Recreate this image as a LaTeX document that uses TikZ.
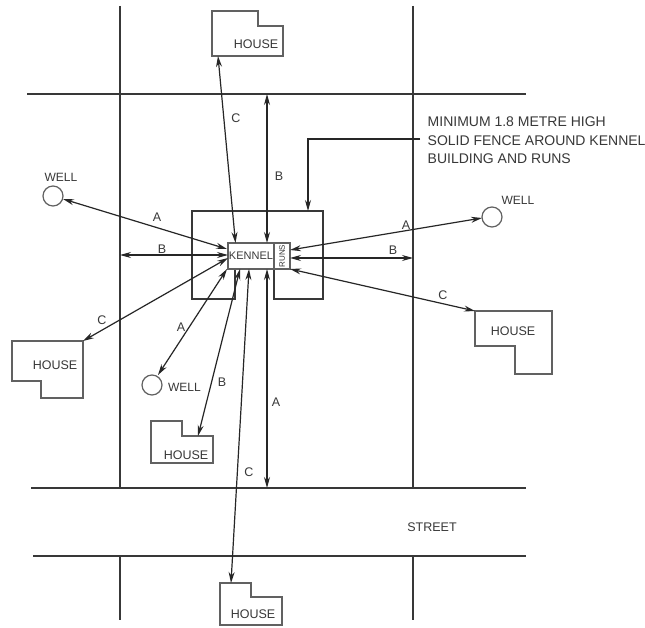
\documentclass[tikz,border=0pt]{standalone}
\usepackage{fontspec}
\setmainfont{Liberation Sans}
\usetikzlibrary{arrows.meta}
\definecolor{ink}{gray}{0.22}
\definecolor{soft}{gray}{0.38}
\tikzset{
  x=1pt,y=-1pt,
  road/.style={draw=ink,line width=1.2pt},
  fence/.style={draw=ink,line width=1.1pt},
  outline/.style={draw=soft,line width=1.2pt},
  link/.style={draw=black!85,line width=1.2pt,{Stealth[length=11pt,width=6pt]}-{Stealth[length=11pt,width=6pt]}},
  pointer/.style={draw=black!85,line width=1.1pt,-{Stealth[length=11pt,width=6pt]}},
  wellc/.style={circle,draw=soft,line width=1.2pt,minimum size=20pt,inner sep=0pt,fill=white},
  lab/.style={font=\fontsize{12.5}{12.5}\selectfont,text=ink,inner sep=0pt},
  small/.style={font=\fontsize{12}{12}\selectfont,text=ink,inner sep=0pt},
  note/.style={font=\fontsize{14}{14}\selectfont,text=ink,inner sep=0pt,anchor=west},
}
\begin{document}
\begin{tikzpicture}
\useasboundingbox (0,0) rectangle (645,628);
\fill[white] (0,0) rectangle (645,628);
% roads
\coordinate (v1a) at (120,6);  \coordinate (v1b) at (120,488);
\coordinate (v1c) at (120,556);\coordinate (v1d) at (120,620);
\coordinate (v2a) at (413,6);  \coordinate (v2b) at (413,488);
\coordinate (v2c) at (413,556);\coordinate (v2d) at (413,620);
\coordinate (h1a) at (27,94);  \coordinate (h1b) at (526,94);
\coordinate (h2a) at (31,488); \coordinate (h2b) at (526,488);
\coordinate (h3a) at (33,556); \coordinate (h3b) at (526,556);
\draw[road] (v1a)--(v1b) (v1c)--(v1d) (v2a)--(v2b) (v2c)--(v2d)
  (h1a)--(h1b) (h2a)--(h2b) (h3a)--(h3b);
% fence
\draw[fence] (235,269)--(235,299)--(192,299)--(192,211)--(323,211)--(323,299)--(274,299)--(274,269);
% houses
\draw[outline] (212,11)--(258,11)--(258,26)--(283,26)--(283,56)--(212,56)--cycle;
\draw[outline] (12,341)--(83,341)--(83,398)--(41,398)--(41,381)--(12,381)--cycle;
\draw[outline] (151,421)--(182,421)--(182,436)--(213,436)--(213,463)--(151,463)--cycle;
\draw[outline] (220,583)--(251,583)--(251,597)--(282,597)--(282,625)--(220,625)--cycle;
\draw[outline] (475,311)--(552,311)--(552,374)--(515,374)--(515,346)--(475,346)--cycle;
\node[lab] (houseT) at (256,44) {HOUSE};
\node[lab] (houseL) at (55,365) {HOUSE};
\node[lab] (houseB) at (186,455) {HOUSE};
\node[lab] (houseS) at (253,614) {HOUSE};
\node[lab] (houseR) at (513,331) {HOUSE};
% wells
\node[wellc] (w1) at (53,196) {};
\node[wellc] (w2) at (492,217) {};
\node[wellc] (w3) at (152,385) {};
\node[small] (w1t) at (61,177) {WELL};
\node[small] (w2t) at (518,200) {WELL};
\node[small] (w3t) at (184.5,387) {WELL};
% kennel
\node[draw=soft,line width=1.1pt,fill=white,minimum width=46pt,minimum height=26pt,inner sep=0pt,text=ink,font=\fontsize{11}{11}\selectfont] (kennel) at (251,256) {KENNEL};
\node[draw=soft,line width=1.1pt,fill=white,minimum width=16pt,minimum height=26pt,inner sep=0pt] (runs) at (282,256) {};
\node[rotate=90,text=ink,font=\fontsize{8}{8}\selectfont,inner sep=0pt] (runst) at (282,256) {RUNS};
% endpoints
\coordinate (tC) at (218,56);  \coordinate (kTC) at (235.5,243);
\coordinate (tB) at (267,94);  \coordinate (kTB) at (267,243);
\coordinate (lA) at (63,199);  \coordinate (kLA) at (227,249);
\coordinate (lB) at (120,255); \coordinate (kLB) at (228,255);
\coordinate (lC) at (83,341);  \coordinate (kLC) at (228,258);
\coordinate (bA) at (158,375); \coordinate (kBA) at (227,269);
\coordinate (bB) at (198,436); \coordinate (kBB) at (240,269);
\coordinate (bC) at (231,583); \coordinate (kBC) at (249,269);
\coordinate (bV) at (267,488); \coordinate (kBV) at (267,269);
\coordinate (rA) at (482,218); \coordinate (kRA) at (290,250);
\coordinate (rB) at (413,258); \coordinate (kRB) at (290,258);
\coordinate (rC) at (475,311); \coordinate (kRC) at (290,269);
\draw[link] (tC)--(kTC);
\draw[link] (tB)--(kTB);
\draw[link] (lA)--(kLA);
\draw[link] (lB)--(kLB);
\draw[link] (lC)--(kLC);
\draw[link] (bA)--(kBA);
\draw[link] (bB)--(kBB);
\draw[link] (bC)--(kBC);
\draw[link] (bV)--(kBV);
\draw[link] (rA)--(kRA);
\draw[link] (rB)--(kRB);
\draw[link] (rC)--(kRC);
% letters
\node[lab] (a1) at (236,118) {C};
\node[lab] (a2) at (279,176) {B};
\node[lab] (a3) at (157,217) {A};
\node[lab] (a4) at (162,249) {B};
\node[lab] (a5) at (102,320) {C};
\node[lab] (a6) at (181,327) {A};
\node[lab] (a7) at (222,382) {B};
\node[lab] (a8) at (276,402) {A};
\node[lab] (a9) at (249,472) {C};
\node[lab] (a10) at (406,225) {A};
\node[lab] (a11) at (393,250) {B};
\node[lab] (a12) at (443,295) {C};
\node[lab] (street) at (432,527) {STREET};
% note
\node[note] (n1) at (427.5,122) {MINIMUM 1.8 METRE HIGH};
\node[note] (n2) at (427.5,141) {SOLID FENCE AROUND KENNEL};
\node[note] (n3) at (427.5,159) {BUILDING AND RUNS};
\coordinate (nb) at (420,139); \coordinate (nc) at (308,139); \coordinate (nd) at (308,211);
\draw[pointer] (nb)--(nc)--(nd);
\end{tikzpicture}
\end{document}
